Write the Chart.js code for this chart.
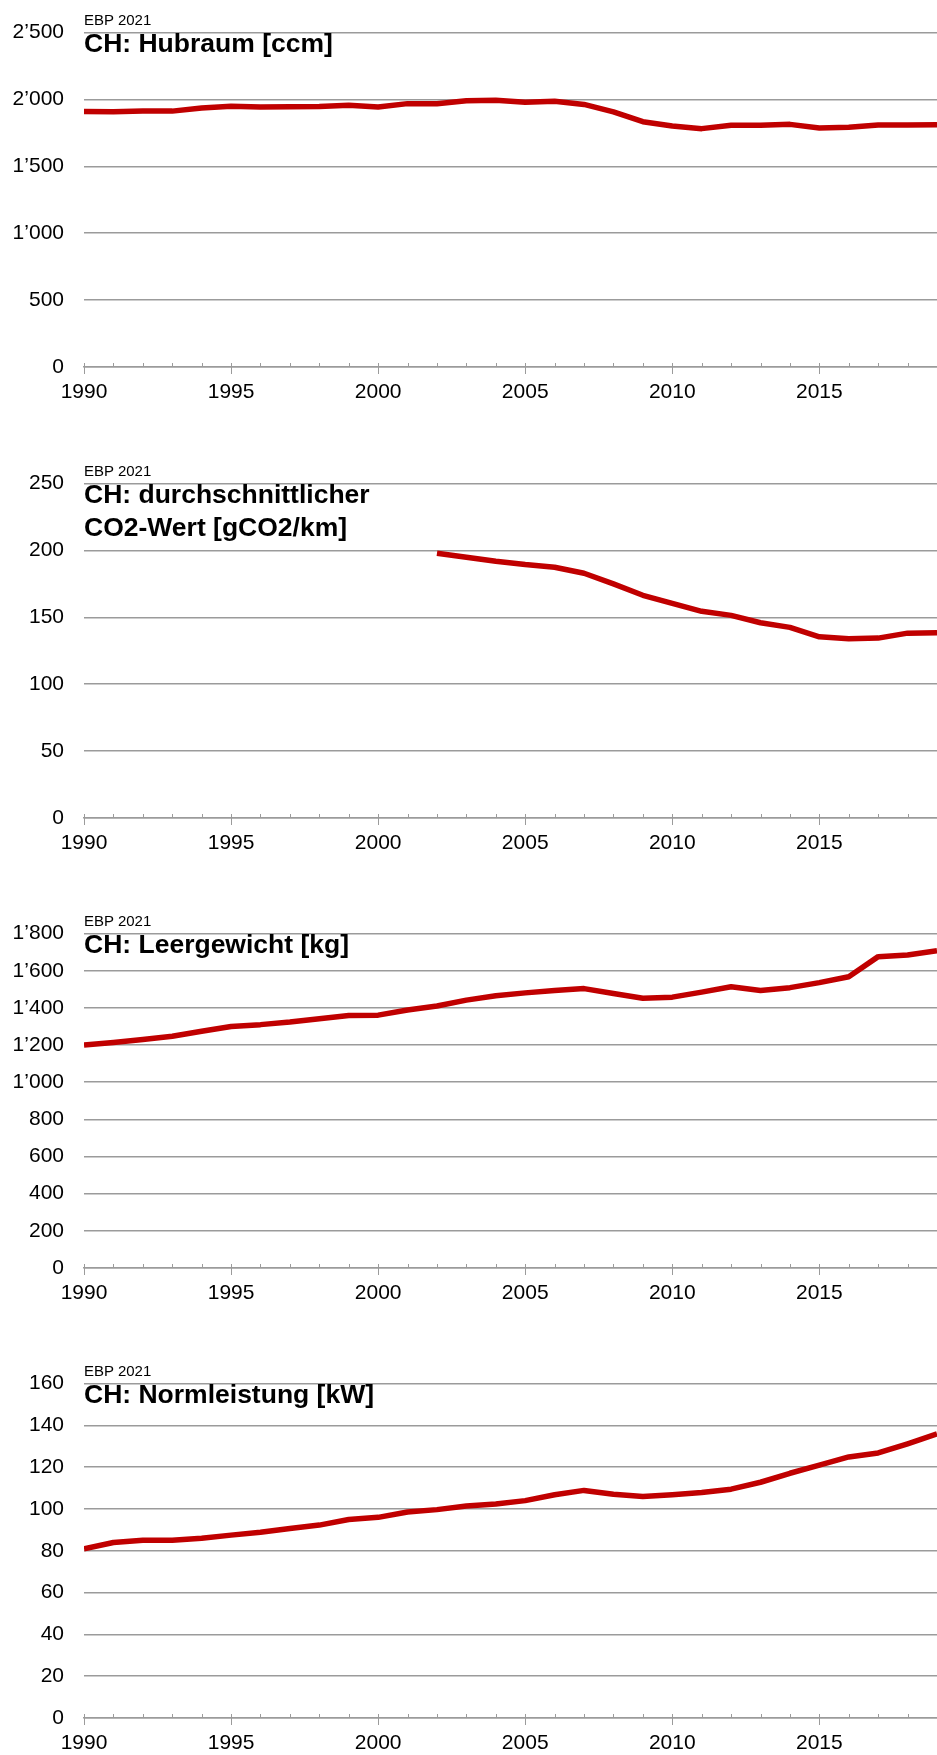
<!DOCTYPE html>
<html>
<head>
<meta charset="utf-8">
<script src="https://cdn.jsdelivr.net/npm/chart.js@4.4.1/dist/chart.umd.min.js"></script>
<style>
  html, body { margin: 0; padding: 0; background: #fff; overflow: hidden; }
  body { width: 937px; height: 1755px; position: relative; font-family: Arial, "Liberation Sans", sans-serif; }
  .panel { position: absolute; left: 0; width: 950px; height: 450px; }
  .panel canvas { position: absolute; left: 0; top: 0; }
  .src { position: absolute; left: 84px; top: 12px; font-size: 15px; line-height: 15px; color: #000; white-space: nowrap; }
  .ttl { position: absolute; left: 84px; top: 27px; font-size: 26.5px; line-height: 33px; font-weight: bold; color: #000; white-space: nowrap; }
</style>
</head>
<body>

<div class="panel" style="top:0px">
  <canvas id="c1" width="950" height="450"></canvas>
  <div class="src">EBP 2021</div>
  <div class="ttl">CH: Hubraum [ccm]</div>
</div>
<div class="panel" style="top:451px">
  <canvas id="c2" width="950" height="450"></canvas>
  <div class="src">EBP 2021</div>
  <div class="ttl">CH: durchschnittlicher<br>CO2-Wert [gCO2/km]</div>
</div>
<div class="panel" style="top:901px">
  <canvas id="c3" width="950" height="450"></canvas>
  <div class="src">EBP 2021</div>
  <div class="ttl">CH: Leergewicht [kg]</div>
</div>
<div class="panel" style="top:1351px">
  <canvas id="c4" width="950" height="450"></canvas>
  <div class="src">EBP 2021</div>
  <div class="ttl">CH: Normleistung [kW]</div>
</div>

<script>
'use strict';

// ── Data ──────────────────────────────────────────────────────────────────────
const years = [1990, 1991, 1992, 1993, 1994, 1995, 1996, 1997, 1998, 1999,
               2000, 2001, 2002, 2003, 2004, 2005, 2006, 2007, 2008, 2009,
               2010, 2011, 2012, 2013, 2014, 2015, 2016, 2017, 2018, 2019];

const hubraum = [1910, 1908, 1914, 1913, 1936, 1950, 1944, 1946, 1948, 1957,
                 1943, 1969, 1968, 1990, 1995, 1980, 1987, 1963, 1907, 1834,
                 1802, 1782, 1807, 1807, 1814, 1787, 1792, 1809, 1809, 1812];

const co2 = [null, null, null, null, null, null, null, null, null, null,
             null, null, 198, 195, 192, 189.5, 187.5, 183, 175, 166.5,
             160.5, 154.5, 151.5, 146, 142.5, 135.5, 134, 134.5, 138.2, 138.5];

const leergewicht = [1200, 1214, 1230, 1247, 1274, 1300, 1310, 1324, 1342, 1359,
                     1361, 1389, 1410, 1442, 1465, 1481, 1494, 1504, 1478, 1452,
                     1458, 1485, 1514, 1494, 1509, 1536, 1568, 1676, 1685, 1708];

const normleistung = [81, 84, 85, 85, 86, 87.5, 88.9, 90.7, 92.3, 95,
                      96, 98.6, 99.7, 101.4, 102.4, 104, 106.8, 108.9, 107.1, 106,
                      106.8, 107.9, 109.5, 112.8, 117.1, 121, 124.9, 126.8, 131.2, 135.9];

// y axis ranges: [max, step]
const hubraumAxis = [2500, 500];
const co2Axis = [250, 50];
const leergewichtAxis = [1800, 200];
const normleistungAxis = [160, 20];

// ── Style ─────────────────────────────────────────────────────────────────────
const RED = '#c00000';
const GRID = '#9b9b9b';
const FONT = { family: 'Arial, "Liberation Sans", sans-serif', size: 21 };

function fmtThousands(v) {
  if (v < 1000) return String(v);
  const k = Math.floor(v / 1000);
  const r = String(v % 1000).padStart(3, '0');
  return k + '\u2019' + r;
}

// small year ticks: minor above the axis, every 5th crossing it
const yearTicks = {
  id: 'yearTicks',
  afterDraw(chart) {
    const xs = chart.scales.x;
    const y0 = chart.scales.y.getPixelForValue(0);
    const ctx = chart.ctx;
    ctx.save();
    ctx.strokeStyle = GRID;
    ctx.lineWidth = 1;
    for (let yr = xs.min; yr <= xs.max; yr++) {
      const px = Math.round(xs.getPixelForValue(yr)) + 0.5;
      ctx.beginPath();
      ctx.moveTo(px, y0 - 4);
      ctx.lineTo(px, yr % 5 === 0 ? y0 + 7 : y0);
      ctx.stroke();
    }
    ctx.restore();
  }
};

function makeChart(id, values, axis) {
  const [max, step] = axis;
  const points = years.map((yr, i) => ({ x: yr, y: values[i] }));
  return new Chart(document.getElementById(id), {
    type: 'line',
    data: {
      datasets: [{
        data: points,
        borderColor: RED,
        borderWidth: 5.5,
        borderJoinStyle: 'round',
        borderCapStyle: 'butt',
        pointRadius: 0,
        tension: 0,
        spanGaps: false,
      }],
    },
    options: {
      responsive: false,
      animation: false,
      devicePixelRatio: 1,
      layout: { padding: { left: 0, top: 28, right: 9, bottom: 0 } },
      plugins: { legend: { display: false }, tooltip: { enabled: false } },
      scales: {
        x: {
          type: 'linear',
          min: years[0],
          max: years[years.length - 1],
          afterFit: s => { s.height = 83; },
          grid: { display: false, drawTicks: false },
          border: { display: true, color: GRID, width: 1.5 },
          ticks: {
            stepSize: 1,
            autoSkip: false,
            maxRotation: 0,
            padding: 13,
            color: '#000',
            font: FONT,
            callback: v => (v % 5 === 0 ? String(v) : ''),
          },
        },
        y: {
          min: 0,
          max: max,
          afterFit: s => { s.width = 84; },
          grid: { color: GRID, lineWidth: 1.5, drawTicks: false },
          border: { display: false },
          ticks: {
            stepSize: step,
            padding: 20,
            color: '#000',
            font: FONT,
            callback: v => fmtThousands(v),
          },
        },
      },
    },
    plugins: [yearTicks],
  });
}

makeChart('c1', hubraum, hubraumAxis);
makeChart('c2', co2, co2Axis);
makeChart('c3', leergewicht, leergewichtAxis);
makeChart('c4', normleistung, normleistungAxis);
</script>
</body>
</html>
